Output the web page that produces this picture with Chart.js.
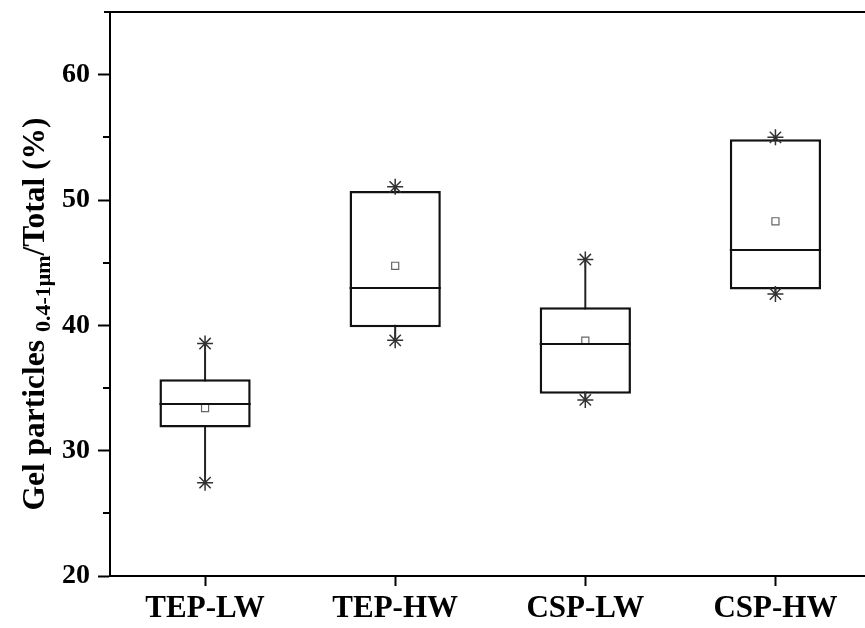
<!DOCTYPE html>
<html>
<head>
<meta charset="utf-8">
<script src="https://cdn.jsdelivr.net/npm/chart.js@4.4.0/dist/chart.umd.min.js"></script>
<style>
html,body{margin:0;padding:0;background:#fff;overflow:hidden;}
#wrap{width:880px;height:628px;}
</style>
</head>
<body>
<div id="wrap"><canvas id="c" width="880" height="628"></canvas></div>
<script>
const categories = ['TEP-LW', 'TEP-HW', 'CSP-LW', 'CSP-HW'];
const whiskerLow  = [27.45, 38.8, 34.05, 42.5];
const q1          = [31.85, 39.85, 34.55, 42.85];
const medians     = [33.75, 43.0, 38.48, 46.03];
const q3          = [35.7, 50.72, 41.45, 54.85];
const whiskerHigh = [38.55, 51.05, 45.25, 55.0];
const means       = [33.4, 44.75, 38.78, 48.3];
const yMajorTicks = [20, 30, 40, 50, 60];
const yMinorTicks = [25, 35, 45, 55];
const yMin = 20, yMax = 65;

const FONT = "'Liberation Serif', 'Times New Roman', serif";

const whiskerData = [];
const starData = [];
categories.forEach((c, i) => {
  whiskerData.push({x: c, y: whiskerLow[i]}, {x: c, y: whiskerHigh[i]}, {x: c, y: null});
  starData.push({x: c, y: whiskerLow[i]}, {x: c, y: whiskerHigh[i]});
});
const meanData = categories.map((c, i) => ({x: c, y: means[i]}));
const boxData = categories.map((c, i) => [q1[i], q3[i]]);

const extras = {
  id: 'extras',
  afterDatasetsDraw(chart) {
    const ctx = chart.ctx;
    const y = chart.scales.y;
    const meta = chart.getDatasetMeta(1);
    ctx.save();
    ctx.strokeStyle = '#111';
    ctx.lineWidth = 2;
    meta.data.forEach((bar, i) => {
      const py = Math.round(y.getPixelForValue(medians[i]));
      ctx.beginPath();
      ctx.moveTo(bar.x - bar.width / 2, py);
      ctx.lineTo(bar.x + bar.width / 2, py);
      ctx.stroke();
    });
    ctx.restore();
  },
  afterDraw(chart) {
    const ctx = chart.ctx;
    const y = chart.scales.y;
    const ca = chart.chartArea;
    ctx.save();
    ctx.strokeStyle = '#000';
    ctx.lineWidth = 2;
    yMinorTicks.forEach(v => {
      const py = Math.round(y.getPixelForValue(v));
      ctx.beginPath();
      ctx.moveTo(ca.left - 7, py);
      ctx.lineTo(ca.left, py);
      ctx.stroke();
    });
    ctx.beginPath();
    ctx.moveTo(ca.left - 6, ca.top);
    ctx.lineTo(chart.width, ca.top);
    ctx.stroke();
    const mainFont = 'bold 31.5px ' + FONT;
    const subFont = 'bold 22px ' + FONT;
    const p1 = 'Gel particles ';
    const p2 = '0.4-1\u03bcm';
    const p3 = '/Total (%)';
    ctx.font = mainFont;
    const w1 = ctx.measureText(p1).width;
    const w3 = ctx.measureText(p3).width;
    ctx.font = subFont;
    const w2 = ctx.measureText(p2).width;
    const total = w1 + w2 + w3;
    const cy = (ca.top + ca.bottom) / 2 + 20;
    ctx.translate(44, cy);
    ctx.rotate(-Math.PI / 2);
    ctx.fillStyle = '#000';
    ctx.textBaseline = 'alphabetic';
    ctx.textAlign = 'left';
    const x0 = -total / 2;
    ctx.font = mainFont;
    ctx.fillText(p1, x0, 0);
    ctx.font = subFont;
    ctx.fillText(p2, x0 + w1, 6);
    ctx.font = mainFont;
    ctx.fillText(p3, x0 + w1 + w2, 0);
    ctx.restore();
  }
};

new Chart(document.getElementById('c'), {
  type: 'bar',
  data: {
    labels: categories,
    datasets: [
      {
        type: 'line',
        data: whiskerData,
        borderColor: '#222',
        borderWidth: 2,
        pointRadius: 0,
        spanGaps: false,
        order: 3
      },
      {
        type: 'bar',
        data: boxData,
        backgroundColor: '#fff',
        borderColor: '#111',
        borderWidth: 2.5,
        borderSkipped: false,
        barPercentage: 0.48,
        categoryPercentage: 1,
        order: 2
      },
      {
        type: 'line',
        data: starData,
        showLine: false,
        pointStyle: 'star',
        pointRadius: 8,
        pointBorderWidth: 1.5,
        pointBorderColor: '#333',
        pointBackgroundColor: '#333',
        order: 1
      },
      {
        type: 'line',
        data: meanData,
        showLine: false,
        pointStyle: 'rect',
        pointRadius: 5,
        pointBorderWidth: 1.2,
        pointBorderColor: '#666',
        pointBackgroundColor: '#fff',
        order: 0
      }
    ]
  },
  options: {
    responsive: false,
    animation: false,
    layout: {padding: {top: 12, left: 0, right: 0, bottom: 0}},
    plugins: {legend: {display: false}, tooltip: {enabled: false}},
    scales: {
      x: {
        type: 'category',
        offset: true,
        grid: {drawOnChartArea: false, tickLength: 10, tickColor: '#000', tickWidth: 2, offset: false},
        border: {color: '#000', width: 2},
        ticks: {color: '#000', font: {family: FONT, size: 31, weight: 'bold'}, padding: 4, maxRotation: 0},
        afterFit(s) { s.height = 52; s.paddingLeft = 0; s.paddingRight = 0; }
      },
      y: {
        type: 'linear',
        min: yMin,
        max: yMax,
        afterBuildTicks(s) { s.ticks = yMajorTicks.map(v => ({value: v})); },
        grid: {drawOnChartArea: false, tickLength: 12, tickColor: '#000', tickWidth: 2},
        border: {color: '#000', width: 2},
        ticks: {color: '#000', font: {family: FONT, size: 28, weight: 'bold'}, padding: 8},
        afterFit(s) { s.width = 110; s.paddingTop = 0; s.paddingBottom = 0; }
      }
    }
  },
  plugins: [extras]
});
</script>
</body>
</html>
